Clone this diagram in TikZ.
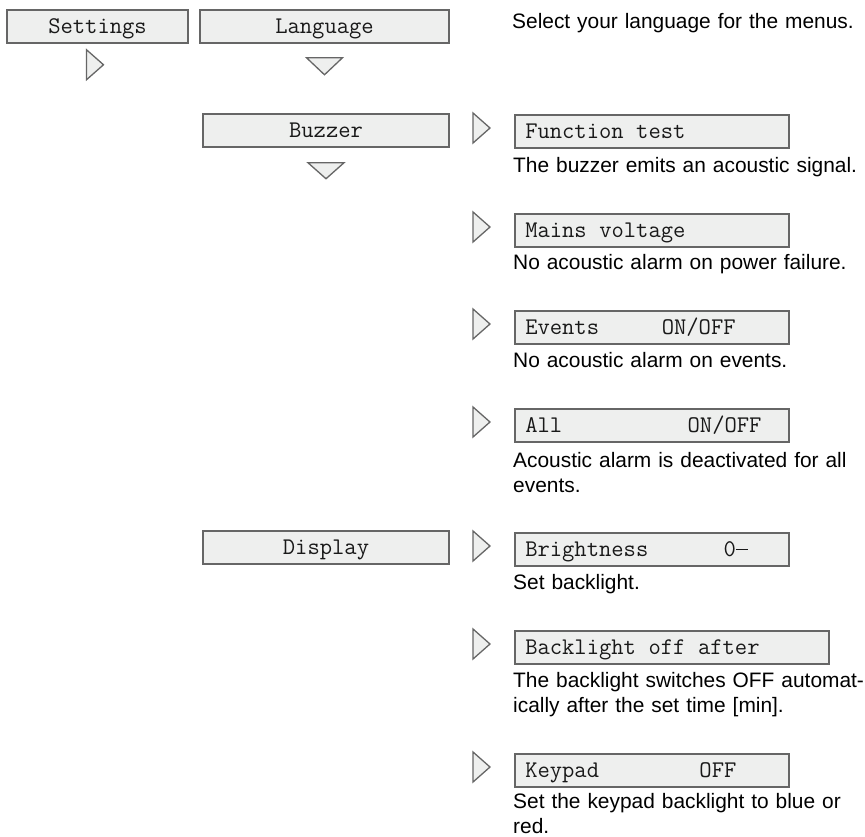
\documentclass[tikz,border=0pt]{standalone}
\usepackage{fontspec}
\setmainfont{Liberation Sans}
\usetikzlibrary{positioning}
\definecolor{menufill}{HTML}{EEEFEE}
\definecolor{menuline}{HTML}{666666}
\tikzset{
  menubox/.style={draw=menuline, line width=1.5pt, fill=menufill, minimum height=33pt, inner ysep=0pt, text height=16pt, text depth=1.5pt, font=\ttfamily\fontsize{23.9}{26}\selectfont, text=black!90, execute at begin node={\setlength{\spaceskip}{0.525em}}},
  itembox/.style={menubox, anchor=north west, inner xsep=10.5pt, text width=253pt, align=left},
  desc/.style={anchor=base west, inner sep=0pt, text width=420pt, align=left, font=\fontsize{20.9}{21.7}\selectfont},
  nextmark/.style={draw=menuline, fill=menufill, line width=1.3pt}
}
% long dash as drawn in the menu font
\newcommand{\menudash}{\rule[0.27em]{0.525em}{1.1pt}}
% line break with the wider line pitch of the descriptions
\newcommand{\descbreak}{\\[4pt]}

\begin{document}
\begin{tikzpicture}[x=1pt, y=-1pt]
  \useasboundingbox (0,0) rectangle (865,836);
  % left column
  \node[menubox, minimum width=181pt] (set) at (97.5,26.5) {Settings};
  \node[menubox, minimum width=249pt] (lang) at (324.5,26.5) {Language};
  \node[menubox, minimum width=246pt] (buz) at (326,130.5) {Buzzer};
  \node[menubox, minimum width=246pt] (disp) at (326,547.5) {Display};
  \node[desc] (langd) at (512,28) {Select your language for the menus.};
  % buzzer items
  \node[itembox] (ft) at (514,114) {Function test};
  \node[desc] (ftd) at (513,172) {The buzzer emits an acoustic signal.};
  \node[itembox] (mv) at (514,213) {Mains voltage};
  \node[desc] (mvd) at (513,269) {No acoustic alarm on power failure.};
  \node[itembox] (ev) at (514,310) {Events~~~~~ON/OFF};
  \node[desc] (evd) at (513,367) {No acoustic alarm on events.};
  \node[itembox] (al) at (514,408) {All~~~~~~~~~~ON/OFF};
  \node[desc] (ald) at (513,467) {Acoustic alarm is deactivated for all\descbreak events.};
  % display items
  \node[itembox] (br) at (514,532) {Brightness~~~~~~0\menudash};
  \node[desc] (brd) at (513,589) {Set backlight.};
  \node[itembox, text width=293pt] (bo) at (514,630) {Backlight off after};
  \node[desc] (bod) at (513,687) {The backlight switches OFF automat-\descbreak ically after the set time [min].};
  \node[itembox] (kp) at (514,753) {Keypad~~~~~~~~OFF};
  \node[desc] (kpd) at (513,808) {Set the keypad backlight to blue or\descbreak red.};
  % markers
  \draw[nextmark] ([xshift=-11pt,yshift=-6pt]set.south) -- ++(17,15) -- ++(-17,15) -- cycle;
  \draw[nextmark] ([xshift=-18pt,yshift=-14pt]lang.south) -- ++(36,0) -- ++(-18,17) -- cycle;
  \draw[nextmark] ([xshift=-18pt,yshift=-15pt]buz.south) -- ++(36,0) -- ++(-18,16) -- cycle;
  \foreach \b in {ft,mv,ev,al,br,bo,kp}
    \draw[nextmark] ([xshift=-41pt,yshift=1pt]\b.north west) -- ++(17,15) -- ++(-17,15) -- cycle;
\end{tikzpicture}
\end{document}
